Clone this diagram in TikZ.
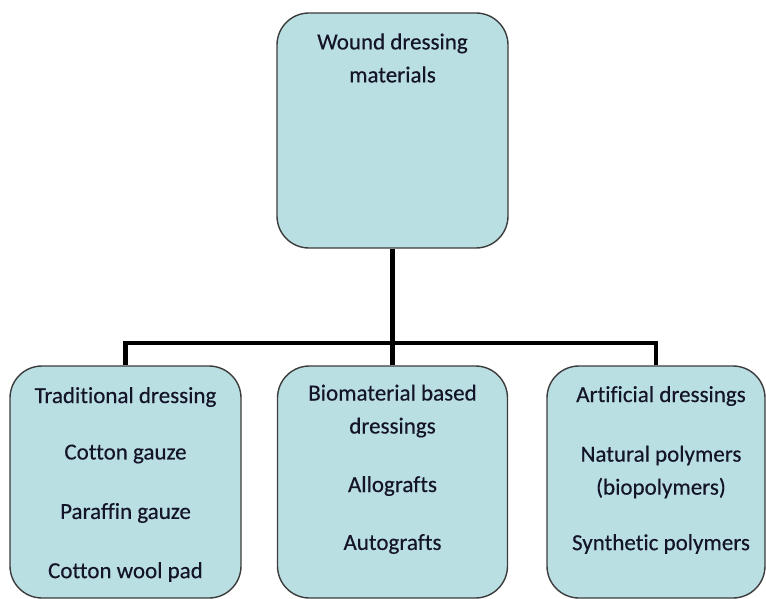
\documentclass[tikz,border=0pt]{standalone}
\usepackage{fontspec}
\setmainfont{Carlito}[Ligatures=NoCommon, FakeBold=0.35]
\definecolor{boxfill}{RGB}{186,223,227}
\definecolor{boxline}{RGB}{60,60,60}
\definecolor{txt}{RGB}{20,20,40}
\begin{document}
\begin{tikzpicture}[x=1pt,y=-1pt,
  box/.style={draw=boxline, line width=1.4pt, fill=boxfill, rounded corners=32pt, inner sep=0pt},
  lbl/.style={text=txt, font=\fontsize{23}{33}\selectfont, align=center, inner sep=0pt},
  conn/.style={line width=4.5pt, black}]
\useasboundingbox (0,0) rectangle (766,599);
\node[box, minimum width=231pt, minimum height=235pt] (top) at (392.5,130.5) {};
\node[box, minimum width=231pt, minimum height=232pt] (left) at (125.5,482) {};
\node[box, minimum width=230pt, minimum height=232pt] (mid) at (392.5,482) {};
\node[box, minimum width=218pt, minimum height=232pt] (right) at (656,482) {};
\coordinate (j) at (392.5,343);
\draw[conn] (top.south) -- (top.south |- j);
\draw[conn] (left.north) -- (left.north |- j) -- (right.north |- j) -- (right.north);
\draw[conn] (mid.north) -- (mid.north |- j);
\node[lbl] (t1) at (392.5,58) {Wound dressing\\materials};
\node[lbl] (l1) at (125.5,397) {Traditional dressing};
\node[lbl] (l2) at (125.5,454) {Cotton gauze};
\node[lbl] (l3) at (125.5,513) {Paraffin gauze};
\node[lbl] (l4) at (125.5,572) {Cotton wool pad};
\node[lbl] (m1) at (392.5,411) {Biomaterial based\\dressings};
\node[lbl] (m2) at (392.5,486) {Allografts};
\node[lbl] (m3) at (392.5,544) {Autografts};
\node[lbl] (r1) at (661,396) {Artificial dressings};
\node[lbl] (r2) at (661,472) {Natural polymers\\(biopolymers)};
\node[lbl] (r3) at (661,544) {Synthetic polymers};
\end{tikzpicture}
\end{document}
